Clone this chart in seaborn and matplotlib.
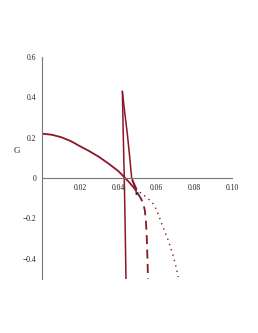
import matplotlib
matplotlib.use("Agg")
import matplotlib.pyplot as plt
import seaborn as sns
import pandas as pd

# stable branch
x_main = [0.0, 0.005, 0.01, 0.015, 0.02, 0.025, 0.03, 0.035, 0.04, 0.043, 0.046, 0.048, 0.0495]
g_main = [0.22, 0.215, 0.203, 0.184, 0.158, 0.133, 0.105, 0.072, 0.036, 0.008, -0.022, -0.044, -0.062]

# near-vertical branch
x_vert = [0.0423, 0.0428, 0.0433, 0.0437, 0.0440, 0.0442]
g_vert = [0.43, 0.2, 0.0, -0.2, -0.38, -0.5]

# cusp branch
x_cusp = [0.0423, 0.0436, 0.0449, 0.0461, 0.0472, 0.0485, 0.0498]
g_cusp = [0.43, 0.32, 0.22, 0.11, 0.0, -0.028, -0.055]

# dashed branch
x_dash = [0.0475, 0.049, 0.0505, 0.052, 0.0533, 0.0541, 0.0546, 0.0551, 0.0554, 0.0558]
g_dash = [-0.01, -0.045, -0.078, -0.1, -0.125, -0.16, -0.2, -0.28, -0.37, -0.5]

# dotted branch
x_dot = [0.049, 0.0515, 0.054, 0.058, 0.0602, 0.062, 0.064, 0.0665, 0.0686, 0.0703, 0.0717]
g_dot = [-0.055, -0.07, -0.088, -0.12, -0.155, -0.2, -0.25, -0.31, -0.37, -0.43, -0.49]

color = "#8c1526"

sns.set_style("white")
plt.rcParams["font.family"] = ["Liberation Serif", "DejaVu Serif"]

fig = plt.figure(figsize=(2.58, 3.33), dpi=100)
ax = fig.add_axes([42 / 258, 54 / 333, 190 / 258, 222 / 333])

sns.lineplot(data=pd.DataFrame({"x": x_main, "g": g_main}), x="x", y="g", ax=ax,
             color=color, lw=1.3, sort=False)
sns.lineplot(data=pd.DataFrame({"x": x_vert, "g": g_vert}), x="x", y="g", ax=ax,
             color=color, lw=1.1, sort=False)
sns.lineplot(data=pd.DataFrame({"x": x_cusp, "g": g_cusp}), x="x", y="g", ax=ax,
             color=color, lw=1.1, sort=False)
sns.lineplot(data=pd.DataFrame({"x": x_dash, "g": g_dash}), x="x", y="g", ax=ax,
             color=color, lw=1.3, sort=False, linestyle=(0, (5, 3)))
sns.lineplot(data=pd.DataFrame({"x": x_dot, "g": g_dot}), x="x", y="g", ax=ax,
             color=color, lw=1.0, sort=False, linestyle=(0, (1, 3)))

# small arrow near the branch junction
ax.annotate("", xy=(0.0492, -0.062), xytext=(0.0505, -0.085),
            arrowprops=dict(arrowstyle="-|>", color="#333333", lw=0.7,
                            mutation_scale=5))

ax.set_xlim(0, 0.10)
ax.set_ylim(-0.5, 0.6)
ax.spines["top"].set_visible(False)
ax.spines["right"].set_visible(False)
ax.spines["bottom"].set_position(("data", 0))
for s in ("left", "bottom"):
    ax.spines[s].set_color("#777777")
    ax.spines[s].set_linewidth(0.8)

ax.set_xticks([0.02, 0.04, 0.06, 0.08, 0.10])
ax.set_xticklabels(["0.02", "0.04", "0.06", "0.08", "0.10"])
ax.set_yticks([-0.4, -0.2, 0, 0.2, 0.4, 0.6])
ax.set_yticklabels(["\u22120.4", "\u22120.2", "0", "0.2", "0.4", "0.6"])
ax.tick_params(axis="both", labelsize=5.5, length=0, labelcolor="#222222", pad=4,
               bottom=True, left=True)

ax.set_xlabel("")
ax.set_ylabel("G", rotation=0, fontsize=6.5, labelpad=10)
ax.yaxis.set_label_coords(-0.13, 0.56)

fig.savefig("out.png", dpi=100)
